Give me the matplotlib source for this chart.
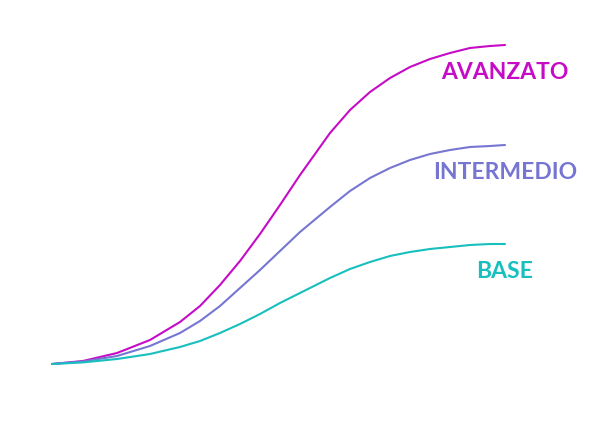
import matplotlib.pyplot as plt

# posizione lungo l'asse orizzontale (0 = inizio, 453 = fine)
x = [0, 31, 65, 98, 128, 148, 168, 188, 208, 228, 248,
     278, 298, 318, 338, 358, 378, 398, 418, 438, 453]

avanzato = [0, 3, 11, 24, 42, 58, 79, 103, 130, 159, 189,
            231, 254, 272, 286, 297, 305, 311, 316, 318, 319]
intermedio = [0, 2.5, 8, 18, 31, 43, 58, 76, 94, 113, 132,
              157, 173, 186, 196, 204, 210, 214, 217, 218, 219]
base = [0, 1.6, 5, 10, 17, 23, 31, 40, 50, 61, 71,
        86, 95, 102, 108, 112, 115, 117, 119, 120, 120]

labels = ["AVANZATO", "INTERMEDIO", "BASE"]
colors = ["#C60BC6", "#7676D2", "#17BFBF"]

W, H = 591, 441
fig = plt.figure(figsize=(W / 100, H / 100), dpi=100)
# area del grafico: da x=52 a 505 px, da y=364 a 45 px
ax = fig.add_axes([52 / W, (H - 364) / H, 453 / W, 319 / H])
ax.set_xlim(0, 453)
ax.set_ylim(0, 319)
ax.axis("off")

for serie, lab, col in zip([avanzato, intermedio, base], labels, colors):
    ax.plot(x, serie, color=col, linewidth=1.5, clip_on=False,
            solid_capstyle="round", solid_joinstyle="round")
    ax.annotate(lab, xy=(x[-1], serie[-1]), xytext=(0, -27),
                textcoords="offset pixels", ha="center", va="center",
                color=col, fontsize=16.5, fontweight="bold", family="Lato")

fig.savefig("out.png", dpi=100)
